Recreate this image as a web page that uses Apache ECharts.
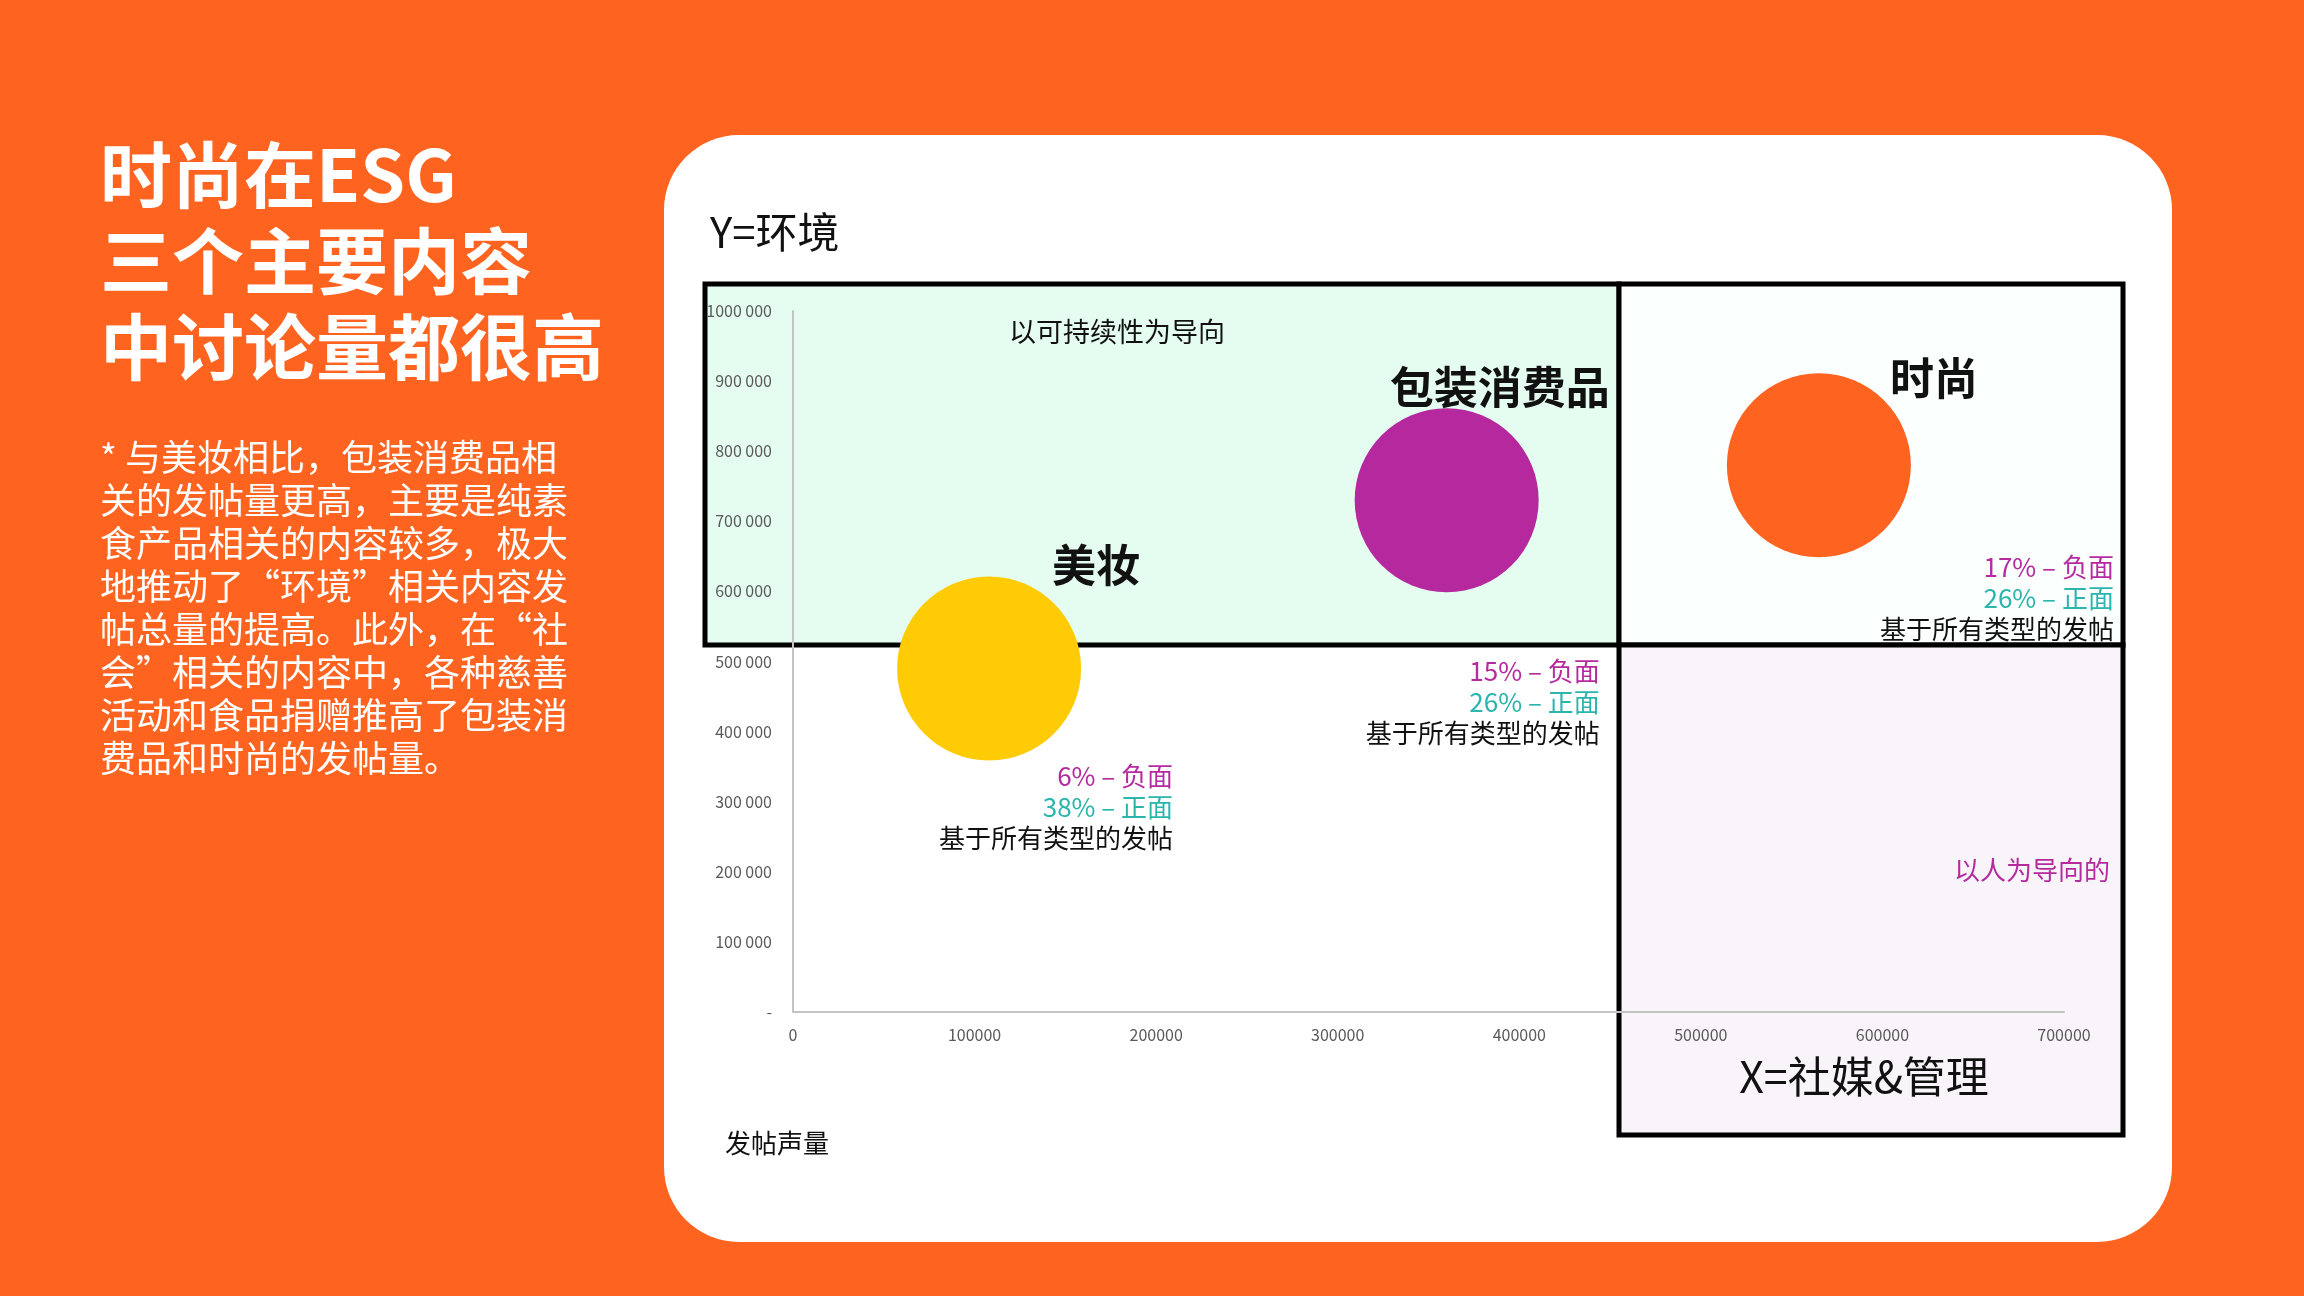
<!DOCTYPE html>
<html>
<head>
<meta charset="utf-8">
<script src="https://cdn.jsdelivr.net/npm/echarts@6/dist/echarts.min.js"></script>
<style>
html,body{margin:0;padding:0;background:#fe6320;}
#c{width:2304px;height:1296px;}
</style>
</head>
<body>
<div id="c"></div>
<script>
// ---- data ----
const categories = ['美妆', '包装消费品', '时尚'];
const xValues = [108000, 360000, 565000];
const yValues = [490000, 730000, 780000];
const negativePct = [6, 15, 17];
const positivePct = [38, 26, 26];
const xTickLabels = ['0', '100000', '200000', '300000', '400000', '500000', '600000', '700000'];
const yTickLabels = ['-', '100 000', '200 000', '300 000', '400 000', '500 000', '600 000', '700 000', '800 000', '900 000', '1000 000'];
const titleLines = ['时尚在ESG', '三个主要内容', '中讨论量都很高'];
const bodyLines = [
  '* 与美妆相比，包装消费品相',
  '关的发帖量更高，主要是纯素',
  '食产品相关的内容较多，极大',
  '地推动了“环境”相关内容发',
  '帖总量的提高。此外，在“社',
  '会”相关的内容中，各种慈善',
  '活动和食品捐赠推高了包装消',
  '费品和时尚的发帖量。'
];

// ---- styles ----
const bubbleColors = ['#ffcb05', '#b5289e', '#fe6320'];
const nameOffsets = [[107, -103], [53, -113], [115, -87]];
const noteOffsets = [[184, 92], [153, 155], [295, 86]];
const FONT = '"Noto Sans CJK SC", "Noto Sans", sans-serif';
const MAGENTA = '#b52a9f';
const TEAL = '#2bb5ad';

const chart = echarts.init(document.getElementById('c'), null, {renderer: 'canvas'});

const bubbleData = categories.map((c, i) => ({
  name: c,
  value: [xValues[i], yValues[i]],
  itemStyle: {color: bubbleColors[i]},
  label: {offset: nameOffsets[i]}
}));

const noteData = categories.map((c, i) => ({
  name: c,
  value: [xValues[i], yValues[i]],
  label: {
    offset: noteOffsets[i],
    formatter: '{n|' + negativePct[i] + '% – 负面}\n{p|' + positivePct[i] + '% – 正面}\n{b|基于所有类型的发帖}'
  }
}));

const graphics = [];
// card
graphics.push({type: 'rect', z: -5, shape: {x: 664, y: 135, width: 1508, height: 1107, r: 75}, style: {fill: '#ffffff'}});
// quadrants
graphics.push({type: 'rect', z: -4, shape: {x: 705, y: 284, width: 914, height: 361}, style: {fill: '#e5fcf1', stroke: '#000', lineWidth: 5}});
graphics.push({type: 'rect', z: -4, shape: {x: 1619, y: 284, width: 504, height: 361}, style: {fill: '#fbfffd', stroke: '#000', lineWidth: 5}});
graphics.push({type: 'rect', z: -4, shape: {x: 1619, y: 645, width: 504, height: 490}, style: {fill: '#f9f3fa', stroke: '#000', lineWidth: 5}});

function txt(text, x, y, size, color, align, weight) {
  return {
    type: 'text', z: 10, x: x, y: y,
    style: {
      text: text, fill: color, fontSize: size, fontFamily: FONT, fontWeight: weight || 'normal',
      textAlign: align || 'left', textVerticalAlign: 'middle', align: align || 'left', verticalAlign: 'middle'
    }
  };
}
titleLines.forEach((t, i) => graphics.push(txt(t, 100, 175 + i * 86, 72, '#ffffff', 'left', 'bold')));
bodyLines.forEach((t, i) => graphics.push(txt(t, 100, 457 + i * 43, 36, '#ffffff', 'left')));
graphics.push(txt('Y=环境', 710, 232, 42, '#111111', 'left'));
graphics.push(txt('以可持续性为导向', 1117, 332, 27, '#111111', 'center'));
graphics.push(txt('以人为导向的', 2110, 870, 26, MAGENTA, 'right'));
graphics.push(txt('X=社媒&管理', 1864, 1077, 43, '#111111', 'center'));
graphics.push(txt('发帖声量', 725, 1143, 26, '#111111', 'left'));

const option = {
  backgroundColor: '#fe6320',
  animation: false,
  graphic: {elements: graphics},
  grid: {left: 793, right: 240, top: 311, bottom: 284, containLabel: false},
  xAxis: {
    type: 'value', min: 0, max: 700000, interval: 100000,
    axisLine: {show: true, lineStyle: {color: '#c4c4c4', width: 2}},
    axisTick: {show: false},
    splitLine: {show: false},
    axisLabel: {
      margin: 15, color: '#595959', fontSize: 16, fontFamily: FONT,
      formatter: v => xTickLabels[Math.round(v / 100000)]
    }
  },
  yAxis: {
    type: 'value', min: 0, max: 1000000, interval: 100000,
    axisLine: {show: true, lineStyle: {color: '#c4c4c4', width: 2}},
    axisTick: {show: false},
    splitLine: {show: false},
    axisLabel: {
      margin: 21, color: '#595959', fontSize: 16, fontFamily: FONT,
      formatter: v => yTickLabels[Math.round(v / 100000)]
    }
  },
  series: [
    {
      type: 'scatter', name: 'bubbles', z: 3,
      symbolSize: 184,
      data: bubbleData,
      itemStyle: {opacity: 1},
      label: {
        show: true, position: 'inside', formatter: '{b}',
        color: '#111111', fontSize: 44, fontWeight: 'bold', fontFamily: FONT,
        align: 'center', verticalAlign: 'middle'
      },
      emphasis: {disabled: true}
    },
    {
      type: 'scatter', name: 'notes', z: 4,
      symbolSize: 2,
      itemStyle: {color: 'rgba(0,0,0,0)', opacity: 1},
      data: noteData,
      label: {
        show: true, position: 'inside', opacity: 1,
        align: 'right', verticalAlign: 'top',
        rich: {
          n: {color: MAGENTA, fontSize: 26, fontFamily: FONT, lineHeight: 31, align: 'right'},
          p: {color: TEAL, fontSize: 26, fontFamily: FONT, lineHeight: 31, align: 'right'},
          b: {color: '#111111', fontSize: 26, fontFamily: FONT, lineHeight: 31, align: 'right'}
        }
      },
      emphasis: {disabled: true}
    }
  ]
};
chart.setOption(option);
</script>
</body>
</html>
